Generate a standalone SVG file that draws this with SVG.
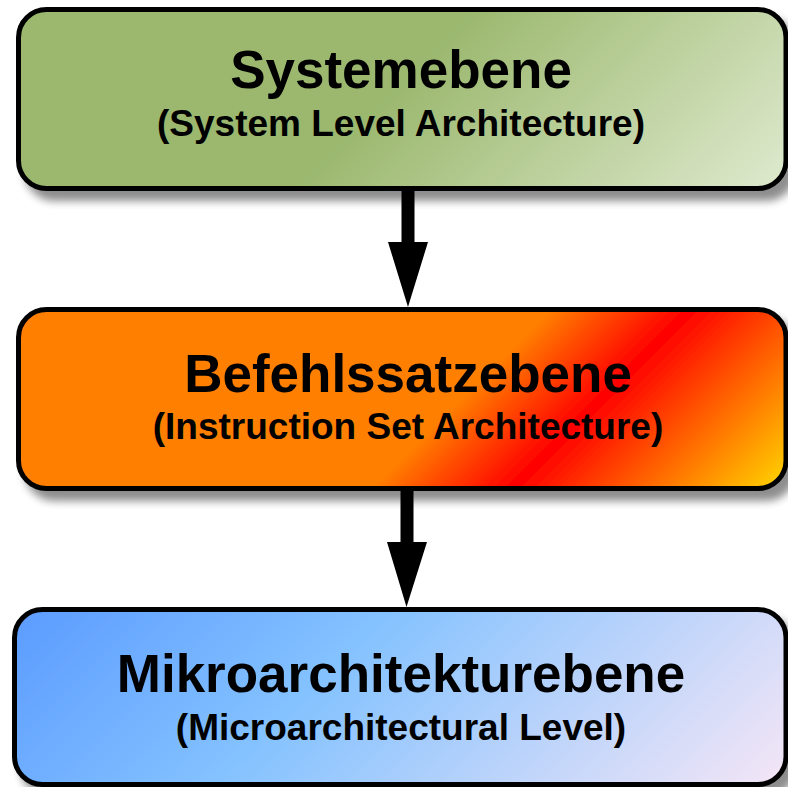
<svg xmlns="http://www.w3.org/2000/svg" width="788" height="787" viewBox="0 0 788 787">
  <defs>
    <filter id="shadow" x="-5%" y="-10%" width="115%" height="130%">
      <feGaussianBlur in="SourceAlpha" stdDeviation="4"/>
      <feOffset dx="8" dy="10" result="b"/>
      <feComponentTransfer><feFuncA type="linear" slope="0.45"/></feComponentTransfer>
      <feMerge><feMergeNode/><feMergeNode in="SourceGraphic"/></feMerge>
    </filter>
    <linearGradient id="gGreen" gradientUnits="userSpaceOnUse" x1="240" y1="240" x2="487.5" y2="487.5">
      <stop offset="0" stop-color="#9bb86e"/>
      <stop offset="1" stop-color="#dfeacf"/>
    </linearGradient>
    <linearGradient id="gOrange" gradientUnits="userSpaceOnUse" x1="430" y1="430" x2="637.5" y2="637.5">
      <stop offset="0" stop-color="#ff7f00"/>
      <stop offset="0.337" stop-color="#ff0000"/>
      <stop offset="1" stop-color="#ffd800"/>
    </linearGradient>
    <linearGradient id="gBlue" gradientUnits="userSpaceOnUse" x1="310" y1="310" x2="785" y2="785">
      <stop offset="0" stop-color="#5b9bff"/>
      <stop offset="0.4" stop-color="#84c2ff"/>
      <stop offset="1" stop-color="#f5e6f6"/>
    </linearGradient>
  </defs>
  <style>
    .box { stroke: #000; stroke-width: 5; filter: url(#shadow); }
    .title { font-family: "Liberation Sans", Arial, sans-serif; font-weight: bold; font-size: 53px; text-anchor: middle; fill: #000; }
    .sub { font-family: "Liberation Sans", Arial, sans-serif; font-weight: bold; font-size: 37px; text-anchor: middle; fill: #000; }
    .arrow { fill: #000; }
  </style>
  <rect width="788" height="787" fill="#fff"/>
  <g id="node-systemebene">
    <rect class="box" x="18.5" y="9.5" width="767.5" height="179" rx="28" fill="url(#gGreen)"/>
    <text class="title" x="401" y="88">Systemebene</text>
    <text class="sub" x="401" y="136">(System Level Architecture)</text>
  </g>
  <g id="node-befehlssatzebene">
    <rect class="box" x="18.5" y="309.5" width="767.5" height="179" rx="28" fill="url(#gOrange)"/>
    <text class="title" x="408" y="392">Befehlssatzebene</text>
    <text class="sub" x="408" y="439">(Instruction Set Architecture)</text>
  </g>
  <g id="node-mikroarchitekturebene">
    <rect class="box" x="14.5" y="609.5" width="771.5" height="175" rx="28" fill="url(#gBlue)"/>
    <text class="title" x="401" y="692">Mikroarchitekturebene</text>
    <text class="sub" x="401" y="740">(Microarchitectural Level)</text>
  </g>
  <g id="connectors">
    <path class="arrow" d="M401.5 190 H414.5 V242 H428 L408 307 L388 242 H401.5 Z"/>
    <path class="arrow" d="M400.5 490 H413.5 V542 H427 L406.5 607 L387 542 H400.5 Z"/>
  </g>
</svg>
